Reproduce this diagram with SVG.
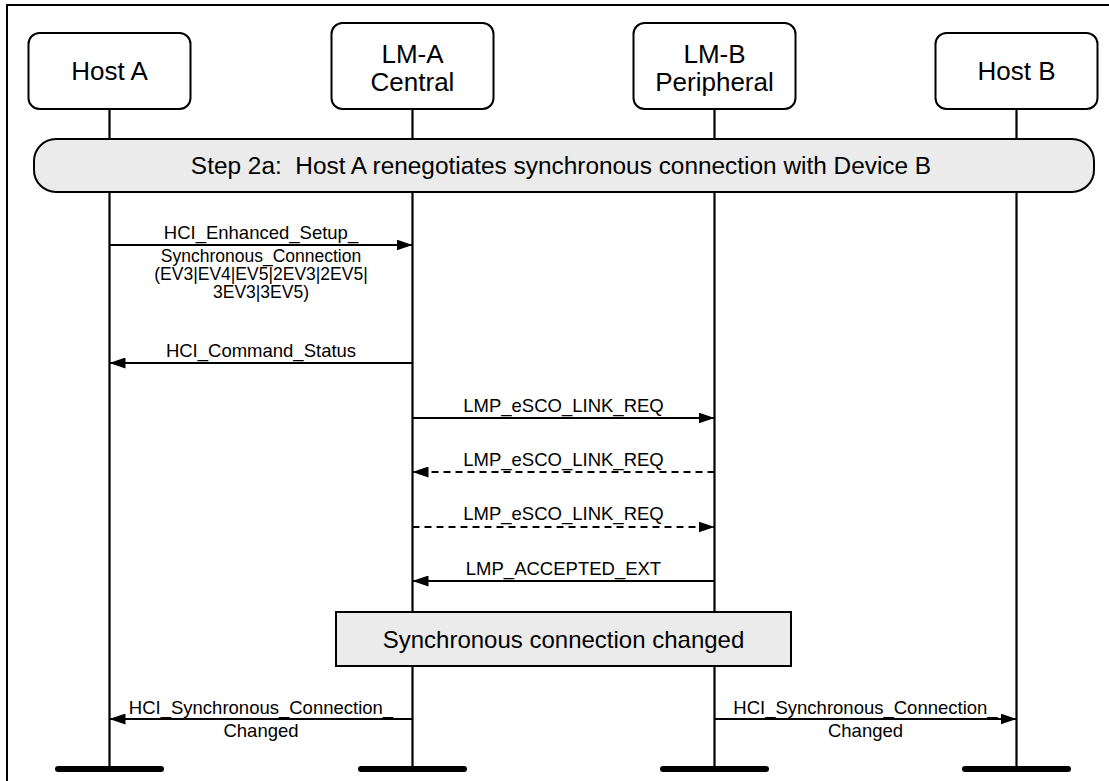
<svg xmlns="http://www.w3.org/2000/svg" width="1109" height="781" viewBox="0 0 1109 781">
<style>
text{font-family:"Liberation Sans",Arial,sans-serif;fill:#000;text-anchor:middle}
.node rect{fill:#fff;stroke:#000;stroke-width:2}
.lbl{font-size:26px}
.msg{font-size:18.5px}
.msg2{font-size:17.5px}
.life{stroke:#000;stroke-width:2.2;fill:none}
.bar{stroke:#000;stroke-width:6;stroke-linecap:round}
.arr{stroke:#000;stroke-width:2.2;fill:none}
.dash{stroke-dasharray:7 5}
.band{fill:#ebebeb;stroke:#000;stroke-width:2}
</style>
<defs>
<marker id="ah" viewBox="0 0 16 11" refX="16" refY="5.5" markerWidth="16" markerHeight="11" markerUnits="userSpaceOnUse" orient="auto">
<path d="M0,0 L16,5.5 L0,11 Z" fill="#000"/>
</marker>
</defs>
<rect width="1109" height="781" fill="#fff"/>
<path d="M7,781 V5 H1109" fill="none" stroke="#000" stroke-width="2"/>

<g id="lifelines">
<line class="life" x1="109.5" y1="109" x2="109.5" y2="769"/>
<line class="life" x1="412.5" y1="109" x2="412.5" y2="769"/>
<line class="life" x1="714.5" y1="109" x2="714.5" y2="769"/>
<line class="life" x1="1016.5" y1="109" x2="1016.5" y2="769"/>
<line class="bar" x1="58" y1="769" x2="161" y2="769"/>
<line class="bar" x1="361" y1="769" x2="464" y2="769"/>
<line class="bar" x1="663" y1="769" x2="766" y2="769"/>
<line class="bar" x1="965" y1="769" x2="1068" y2="769"/>
</g>

<g id="hostA" class="node">
<rect x="28.5" y="33" width="162" height="76" rx="11"/>
<text class="lbl" x="109.5" y="80">Host A</text>
</g>
<g id="lmA" class="node">
<rect x="331.5" y="23" width="162" height="86" rx="11"/>
<text class="lbl" x="412.5" y="63">LM-A<tspan x="412.5" dy="28">Central</tspan></text>
</g>
<g id="lmB" class="node">
<rect x="633.5" y="23" width="162" height="86" rx="11"/>
<text class="lbl" x="714.5" y="63">LM-B<tspan x="714.5" dy="28">Peripheral</tspan></text>
</g>
<g id="hostB" class="node">
<rect x="935.5" y="33" width="162" height="76" rx="11"/>
<text class="lbl" x="1016.5" y="80">Host B</text>
</g>

<g id="step2a">
<rect class="band" x="34" y="139" width="1060" height="53" rx="22"/>
<text x="561" y="174" style="font-size:24.4px">Step 2a:&#160; Host A renegotiates synchronous connection with Device B</text>
</g>

<g id="connectors">
<line class="arr" x1="109.5" y1="245" x2="412.5" y2="245" marker-end="url(#ah)"/>
<line class="arr" x1="412.5" y1="363" x2="109.5" y2="363" marker-end="url(#ah)"/>
<line class="arr" x1="412.5" y1="418" x2="714.5" y2="418" marker-end="url(#ah)"/>
<line class="arr dash" x1="714.5" y1="472" x2="412.5" y2="472" marker-end="url(#ah)"/>
<line class="arr dash" x1="412.5" y1="527" x2="714.5" y2="527" marker-end="url(#ah)"/>
<line class="arr" x1="714.5" y1="581" x2="412.5" y2="581" marker-end="url(#ah)"/>
<line class="arr" x1="412.5" y1="719" x2="109.5" y2="719" marker-end="url(#ah)"/>
<line class="arr" x1="714.5" y1="719" x2="1016.5" y2="719" marker-end="url(#ah)"/>
</g>

<g id="labels">
<text class="msg" x="261" y="239">HCI_Enhanced_Setup_</text>
<text class="msg2" x="261" y="262">Synchronous_Connection<tspan x="261" dy="18">(EV3|EV4|EV5|2EV3|2EV5|</tspan><tspan x="261" dy="18">3EV3|3EV5)</tspan></text>
<text class="msg" x="261" y="357">HCI_Command_Status</text>
<text class="msg" x="563.5" y="412">LMP_eSCO_LINK_REQ</text>
<text class="msg" x="563.5" y="466">LMP_eSCO_LINK_REQ</text>
<text class="msg" x="563.5" y="520">LMP_eSCO_LINK_REQ</text>
<text class="msg" x="563.5" y="575">LMP_ACCEPTED_EXT</text>
<text class="msg" x="261" y="714">HCI_Synchronous_Connection_</text>
<text class="msg" x="261" y="737">Changed</text>
<text class="msg" x="865.5" y="714">HCI_Synchronous_Connection_</text>
<text class="msg" x="865.5" y="737">Changed</text>
</g>

<g id="syncChanged">
<rect class="band" x="336" y="612" width="455" height="54" rx="0"/>
<text x="563.5" y="647.5" style="font-size:24px">Synchronous connection changed</text>
</g>
</svg>
